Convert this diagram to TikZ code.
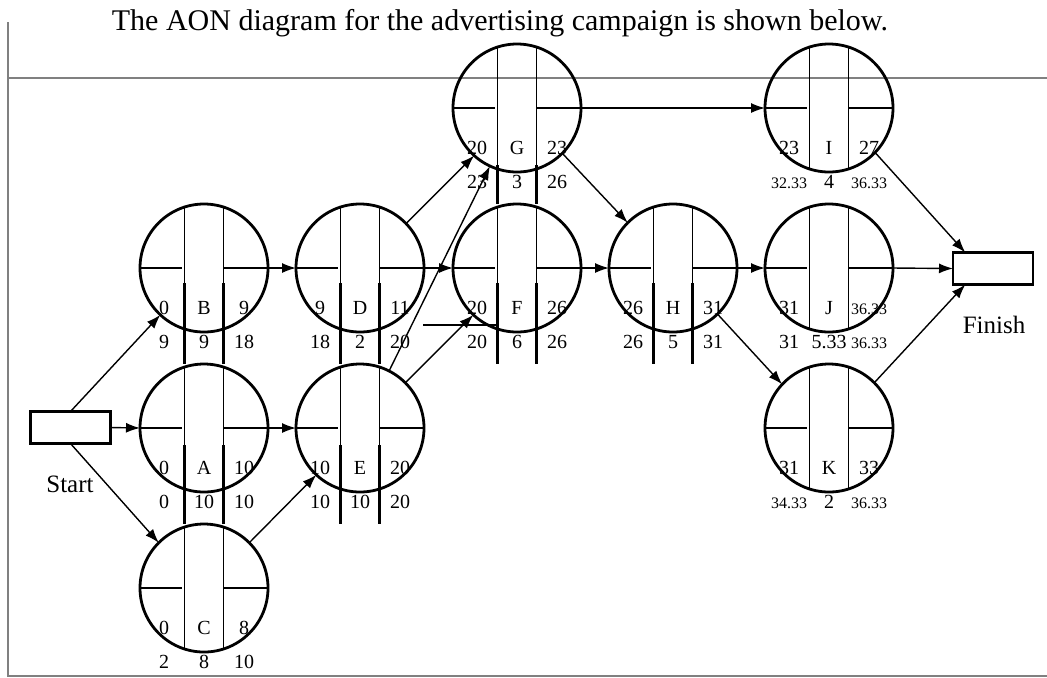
\documentclass[tikz,border=0pt]{standalone}
\usepackage{fontspec}
\setmainfont{Liberation Serif}
\usetikzlibrary{calc, positioning, arrows.meta}
\newcommand{\sv}[1]{{\fontsize{8}{9}\selectfont #1}}

\begin{document}
\begin{tikzpicture}[x=0.5pt, y=-0.5pt, >={Latex[length=7pt,width=5pt]},
    act/.style={circle, draw, line width=1.4pt, minimum size=64pt, inner sep=0pt, outer sep=0pt},
    box/.style={rectangle, draw, line width=1.4pt, minimum width=40pt, minimum height=16pt, inner sep=0pt, outer sep=0pt},
    div/.style={line width=0.7pt},
    bridge/.style={line width=1.4pt},
    link/.style={->, line width=0.7pt},
    val/.style={anchor=base, inner sep=0pt, font=\fontsize{10}{12}\selectfont},
    frame/.style={draw=gray, line width=1.2pt}]

\useasboundingbox (0,0) rectangle (1047,677);

% page frame
\draw[frame] (8,22) -- (8,676) -- (1047,676);
\draw[frame] (8,78) -- (1047,78);

\node (title) at (500,30)[anchor=base, font=\fontsize{15}{18}\selectfont]{The AON diagram for the advertising campaign is shown below.};

\node (Start) at (70.5,427.5)[box]{};
\node (Finish) at (993,268.5)[box]{};
\node (startlbl) at (70,492)[anchor=base, font=\fontsize{12.5}{15}\selectfont]{Start};
\node (finishlbl) at (994,333)[anchor=base, font=\fontsize{12.5}{15}\selectfont]{Finish};

% activities: name/x/y/ES/EF/LS/duration/LF
\foreach \n/\px/\py/\es/\ef/\ls/\dur/\lf in {B/204/268/0/9/9/9/18, A/204/428/0/10/0/10/10,
    C/204/588/0/8/2/8/10, D/360/268/9/11/18/2/20, E/360/428/10/20/10/10/20,
    G/517/108/20/23/23/3/26, F/517/268/20/26/20/6/26, H/673/268/26/31/26/5/31,
    I/829/108/23/27/\sv{32.33}/4/\sv{36.33}, J/829/268/31/\sv{36.33}/31/5.33/\sv{36.33},
    K/829/428/31/33/\sv{34.33}/2/\sv{36.33}}
{
    \node (\n) at (\px,\py)[act]{};
    \begin{scope}[shift={(\px,\py)}]
        \draw[div] (-19.5,-61) -- (-19.5,61);
        \draw[div] (19.5,-61) -- (19.5,61);
        \draw[div] (-64,0) -- (-22,0);
        \draw[div] (19.5,0) -- (64,0);
    \end{scope}
    \node (\n-es) at ($(\n)+(-40,46)$)[val]{\es};
    \node (\n-id) at ($(\n)+(0,46)$)[val]{\n};
    \node (\n-ef) at ($(\n)+(40,46)$)[val]{\ef};
    \node (\n-ls) at ($(\n)+(-40,80)$)[val]{\ls};
    \node (\n-du) at ($(\n)+(0,80)$)[val]{\dur};
    \node (\n-lf) at ($(\n)+(40,80)$)[val]{\lf};
}

\foreach \n/\t in {B/15,D/15,F/15,H/15,A/17,E/17,G/57}
{
    \draw[bridge] ($(\n)+(-19.5,\t)$) -- ($(\n)+(-19.5,96)$);
    \draw[bridge] ($(\n)+(19.5,\t)$) -- ($(\n)+(19.5,96)$);
}
\coordinate (s1) at (423,325);
\coordinate (s2) at (497,325);
\draw[bridge] (s1) -- (s2);

\draw[link] (Start.north) -- (B.227);
\draw[link] (Start.east) -- (A.west);
\draw[link] (Start.south) -- (C.135);
\draw[link] (B.east) -- (D.west);
\draw[link] (A.east) -- (E.west);
\draw[link] (C.45) -- (E.227);
\draw[link] (D.44) -- (G.228);
\draw[link] (D.east) -- (F.west);
\draw[link] (E.63) -- (G.245);
\draw[link] (E.45) -- (F.227);
\draw[link] (G.east) -- (I.west);
\draw[link] (G.-45) -- (H.135);
\draw[link] (F.east) -- (H.west);
\draw[link] (H.east) -- (J.west);
\draw[link] (H.-46) -- (K.137);
\draw[link] (I.-44) -- (Finish.150);
\draw[link] (J.east) -- (Finish.west);
\draw[link] (K.45) -- (Finish.210);

\end{tikzpicture}
\end{document}
